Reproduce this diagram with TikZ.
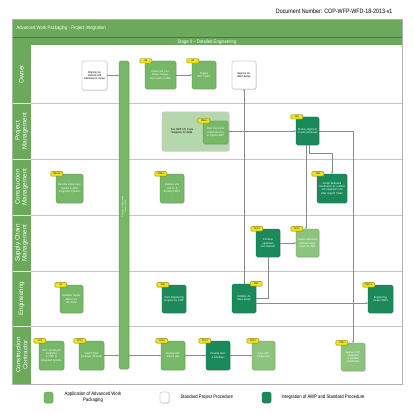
\documentclass[tikz,border=0pt]{standalone}
\usepackage{fontspec}
\setmainfont{Liberation Sans}[FakeStretch=0.85]
\newfontfamily\lanefont{Liberation Sans}
\usetikzlibrary{arrows.meta,shadows}
\definecolor{hdr}{HTML}{6AAA5A}
\definecolor{lite}{HTML}{76B768}
\definecolor{liter}{HTML}{8CC47E}
\definecolor{dark}{HTML}{1B8A5A}
\definecolor{tagy}{HTML}{F2E41A}
\definecolor{lnc}{HTML}{8A8A8A}
\tikzset{
  base/.style={rounded corners=1.5pt, inner sep=0.8pt, align=center, line width=0.3pt,
    font=\fontsize{2.8}{3.3}\selectfont,
    drop shadow={shadow xshift=0.5pt, shadow yshift=-0.6pt, opacity=0.3}},
  awp/.style={base, fill=lite, draw=lite!75!black, text=white},
  awpl/.style={base, fill=liter, draw=liter!75!black, text=white},
  std/.style={base, fill=white, draw=gray, text=black},
  intg/.style={base, fill=dark, draw=dark!75!black, text=white},
  tagbox/.style={fill=tagy, draw=tagy!55!black, rounded corners=0.8pt, line width=0.3pt,
    font=\fontsize{2.3}{2.5}\selectfont, inner sep=0.3pt, minimum width=12pt, minimum height=4.5pt},
  conn/.style={draw=lnc, line width=0.35pt, -{Stealth[length=2pt,width=1.8pt]}},
  lanelab/.style={rotate=90, text=white, align=center, font=\lanefont\fontsize{6.3}{7}\selectfont},
  lgtxt/.style={font=\fontsize{5}{6}\selectfont, text=black},
}
\begin{document}
\begin{tikzpicture}[x=1pt,y=-1pt]
\useasboundingbox (0,0) rectangle (414,414);
% document number
\node[anchor=east, font=\fontsize{6.3}{7}\selectfont] (docno) at (396,11) {Document Number: COP-WFP-WFD-18-2013-v1};
% frame and header
\fill[white] (12,19) rectangle (402,384);
\fill[hdr] (12,19) rectangle (402,37.3);
\fill[hdr] (12,38) rectangle (402,45.5);
\draw[hdr!70!black, line width=0.5pt] (12,37.6) -- (402,37.6);
\node[anchor=west, text=white, font=\fontsize{5}{6}\selectfont] (title) at (13,28) {Advanced Work Packaging - Project Integration};
\node[text=white, font=\fontsize{5}{6}\selectfont] (stage) at (207,41.8) {Stage II -- Detailed Engineering};
% lane label column
\fill[hdr] (12,45.5) rectangle (31,384);
\foreach \yy in {103,159,215,271,326} {
  \draw[white!80!hdr, line width=0.6pt] (12,\yy) -- (31,\yy);
  \draw[gray!45, line width=0.9pt] (31,\yy) -- (402,\yy);
}
\draw[gray!60, line width=0.6pt] (12,19) rectangle (402,384);
\node[lanelab] (l1) at (21.5,74.5) {Owner};
\node[lanelab] (l2) at (21.5,131) {Project\\Management};
\node[lanelab] (l3) at (21.5,187) {Construction\\Management};
\node[lanelab] (l4) at (21.5,243) {Supply Chain\\Management};
\node[lanelab] (l5) at (21.5,298.5) {Engineering};
\node[lanelab] (l6) at (21.5,355) {Construction\\Contractor};
% transition bar
\node[awp, minimum width=10pt, minimum height=308pt] (bar) at (124,215) {};
\node[rotate=90, text=white, align=center, font=\fontsize{2.3}{2.8}\selectfont] (bartxt) at (124,207) {Transition of information\\to construction};
% Owner lane
\node[std, minimum width=25pt, minimum height=29pt, text width=22pt] (ow) at (94.5,75.5) {Ongoing operations and maintenance review};
\node[awp, minimum width=31pt, minimum height=28pt, text width=28pt] (o8) at (160.5,75) {Initiate and coordinate management audit of AWP};
\node[awp, minimum width=24pt, minimum height=28pt, text width=21pt] (o9) at (204,75) {Engage AWP auditor};
\node[std, minimum width=24pt, minimum height=28pt, text width=21pt] (appr) at (244,75) {Approve detailed design};
% Project management lane
\node[rounded corners=2pt, draw=gray!40, line width=0.8pt, fill=lite!55!white,
  minimum width=67pt, minimum height=39pt, drop shadow={shadow xshift=0.5pt, shadow yshift=-0.6pt, opacity=0.3}] (big) at (195.5,131.5) {};
\node[align=center, text width=30pt, font=\fontsize{2.8}{3.3}\selectfont] (bigtxt) at (182,131) {See AWP Life Cycle Diagrams for detail};
\node[awp, minimum width=25pt, minimum height=23pt, text width=22pt] (pm56) at (215.5,132.5) {Align Document control process to support AWP};
\node[intg, minimum width=23pt, minimum height=28pt, text width=20pt] (pm7) at (307.5,131) {Review alignment of work processes};
% Construction management lane
\node[awp, minimum width=27pt, minimum height=29pt, text width=24pt] (cm12) at (69.5,188.5) {Develop digital input formats \& AWP integration systems};
\node[awp, minimum width=24pt, minimum height=29pt, text width=21pt] (cm64) at (172,188.5) {Mobilize and staff PL \& develop CWPs};
\node[intg, minimum width=30pt, minimum height=29pt, text width=27pt] (cm6) at (332,188.5) {Assign dedicated coordinators for scaffold, and equipment and other support trades};
% Supply chain lane
\node[intg, minimum width=24pt, minimum height=28pt, text width=21pt] (sc32) at (268,243) {Purchase equipment and materials};
\node[awpl, minimum width=23pt, minimum height=28pt, text width=20pt] (sc33) at (307.5,243) {Assure dedicated material coordinators for AWP};
% Engineering lane
\node[awp, minimum width=23pt, minimum height=28pt, text width=20pt] (e1) at (71.5,299) {Establish regular delivery for 3D model};
\node[intg, minimum width=24pt, minimum height=28pt, text width=21pt] (e4) at (174,299) {Track Engineering progress by CWP};
\node[intg, minimum width=24pt, minimum height=29pt, text width=21pt] (comb) at (244,298.5) {Combine detailed design};
\node[intg, minimum width=25pt, minimum height=28pt, text width=22pt] (erel) at (380.5,299) {Engineering release EWPs};
% Construction contractor lane
\node[awp, minimum width=25pt, minimum height=29pt, text width=22pt] (cc3) at (51.5,355.5) {WFP and Report Integration in CWP to integrated systems};
\node[awp, minimum width=25pt, minimum height=29pt, text width=22pt] (cc22) at (91.5,355.5) {Submit Work Packages (Phased)};
\node[awp, minimum width=24pt, minimum height=29pt, text width=21pt] (cc52) at (173,355.5) {Develop IWP release plan};
\node[intg, minimum width=24pt, minimum height=29pt, text width=21pt] (cc53) at (218,355.5) {Develop level 4 schedules};
\node[awpl, minimum width=23pt, minimum height=29pt, text width=20pt] (cc62) at (263.5,355.5) {Issue IWP release plan};
\node[awpl, minimum width=24pt, minimum height=28pt, text width=21pt] (cc13) at (353,357) {Approve IWP equipment \& qualified coordinators};
% tags
\node[tagbox] (t1) at ([xshift=1pt]o8.north west) {O8};
\node[tagbox] (t2) at ([xshift=1pt]o9.north west) {O9};
\node[tagbox] (t3) at ([xshift=1pt]pm56.north west) {PM5.6};
\node[tagbox] (t4) at ([xshift=1pt]pm7.north west) {PM7};
\node[tagbox] (t5) at ([xshift=1pt]cm12.north west) {CM1.2A};
\node[tagbox] (t6) at ([xshift=1pt]cm64.north west) {CM6.4};
\node[tagbox] (t7) at ([xshift=1pt]cm6.north west) {CM6};
\node[tagbox] (t8) at ([xshift=1pt]sc32.north west) {SC3.2};
\node[tagbox] (t9) at ([xshift=1pt]sc33.north west) {SC3.3};
\node[tagbox] (t10) at ([xshift=1pt]e1.north west) {E1};
\node[tagbox] (t11) at ([xshift=1pt]e4.north west) {EN4};
\node[tagbox] (t12) at ([xshift=0pt]comb.north east) {EN5};
\node[tagbox] (t13) at ([xshift=1pt]erel.north west) {EN12.4};
\node[tagbox] (t14) at ([xshift=1pt]cc3.north west) {CC3};
\node[tagbox] (t15) at ([xshift=1pt]cc22.north west) {CC2.2};
\node[tagbox] (t16) at ([xshift=1pt]cc52.north west) {CC5.2};
\node[tagbox] (t17) at ([xshift=-1pt]cc53.north west) {CC5.3};
\node[tagbox] (t18) at ([xshift=1pt]cc62.north west) {CC6.2};
\node[tagbox] (t19) at ([xshift=1pt]cc13.north west) {CC13};
% connectors
\draw[conn] (ow.east) -- (ow.east -| bar.west);
\draw[conn] (o8.east) -- (o9.west);
\draw[conn] (comb.north) -- (appr.south);
\draw[conn] (pm7.west -| pm56.east) -- (pm7.west);
\draw[conn] (pm7.east) -| (cc13.north);
\draw[conn] ([xshift=-1.5pt]pm7.south) -- ([xshift=-1.5pt]sc33.north);
\coordinate (k1) at (309,153);
\draw[conn] ([xshift=1.5pt]pm7.south) -- ([xshift=1.5pt]pm7.south |- k1) -| (cm6.north);
\draw[conn] (sc32.east) -- (sc33.west);
\draw[conn] (sc32.south) |- (comb.east);
\draw[conn] ([yshift=-4.5pt]comb.east) -- ([yshift=-4.5pt]comb.east -| erel.west);
\draw[conn] (cc22.east) -- (cc22.east -| bar.west);
\draw[conn] (cc22.east -| bar.east) -- (cc52.west);
\draw[conn] (cc52.east) -- (cc53.west);
\draw[conn] (cc53.east) -- (cc62.west);
% legend
\node[awp, minimum width=9pt, minimum height=11pt] (lg1) at (48.5,397.5) {};
\node[lgtxt, align=center] (lg1t) at (93,397.5) {Application of Advanced Work\\Packaging};
\node[std, minimum width=9pt, minimum height=11pt] (lg2) at (164.5,397.5) {};
\node[lgtxt, anchor=west] (lg2t) at (177,397.5) {Standard Project Procedure};
\node[intg, minimum width=9pt, minimum height=11pt] (lg3) at (266.5,397.5) {};
\node[lgtxt, anchor=west] (lg3t) at (278,397.5) {Integration of AWP and Standard Procedure};
\end{tikzpicture}
\end{document}
